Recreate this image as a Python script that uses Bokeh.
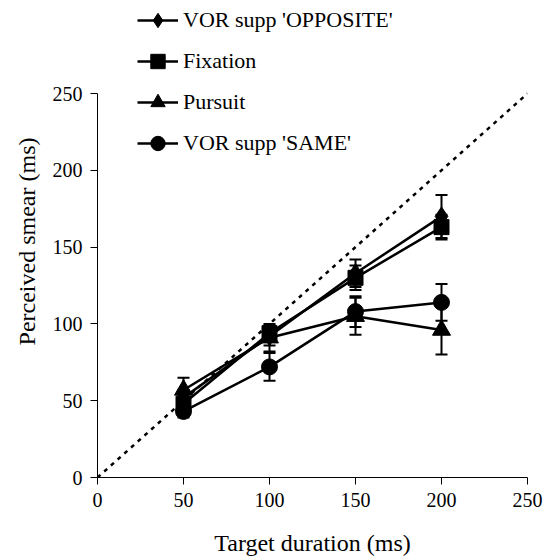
from bokeh.plotting import figure
from bokeh.models import (ColumnDataSource, Whisker, TeeHead, Legend, LegendItem,
                          Range1d, FixedTicker)
from bokeh.embed import file_html
from bokeh.resources import INLINE

durations = [50, 100, 150, 200]
opposite = [52, 92, 133, 170]
opposite_err = [5, 6, 9, 14]
fixation = [48, 94, 130, 163]
fixation_err = [4, 5, 8, 8]
pursuit = [57, 91, 105, 96]
pursuit_err = [8, 9, 12, 16]
same = [43, 72, 108, 114]
same_err = [4, 9, 10, 12]
unity = [0, 250]
ticks = [0, 50, 100, 150, 200, 250]

SERIF = "Liberation Serif"

p = figure(width=544, height=558, output_backend="svg", toolbar_location=None,
           x_range=Range1d(0, 250), y_range=Range1d(0, 307.3),
           min_border_left=97, min_border_right=17, min_border_top=5,
           min_border_bottom=81)
p.grid.visible = False
p.outline_line_color = None
p.background_fill_color = "white"

for ax in (p.xaxis[0], p.yaxis[0]):
    ax.ticker = FixedTicker(ticks=ticks)
    ax.minor_tick_line_color = None
    ax.major_tick_in = 0
    ax.major_tick_out = 7
    ax.axis_line_color = "black"
    ax.major_tick_line_color = "black"
    ax.major_label_text_font = SERIF
    ax.major_label_text_font_size = "20px"
    ax.major_label_text_color = "black"
    ax.axis_label_text_font = SERIF
    ax.axis_label_text_font_size = "24px"
    ax.axis_label_text_font_style = "normal"
    ax.axis_label_text_color = "black"

p.yaxis.bounds = (0, 250)
p.xaxis.axis_label = "Target duration (ms)"
p.yaxis.axis_label = "Perceived smear (ms)"
p.xaxis.major_label_standoff = 8
p.xaxis.axis_label_standoff = 20
p.yaxis.major_label_standoff = 8
p.yaxis.axis_label_standoff = 10

p.line(unity, unity, line_color="black", line_width=2.5, line_dash="4 5")

series = [
    ("VOR supp 'OPPOSITE'", opposite, opposite_err, "diamond", 19),
    ("Fixation", fixation, fixation_err, "square", 15),
    ("Pursuit", pursuit, pursuit_err, "triangle", 18),
    ("VOR supp 'SAME'", same, same_err, "circle", 16),
]

items = []
for label, vals, errs, marker, size in series:
    src = ColumnDataSource(dict(
        x=durations, y=vals,
        lo=[v - e for v, e in zip(vals, errs)],
        hi=[v + e for v, e in zip(vals, errs)],
    ))
    w = Whisker(source=src, base="x", upper="hi", lower="lo",
                line_color="black", line_width=2,
                upper_head=TeeHead(size=12, line_width=2, line_color="black"),
                lower_head=TeeHead(size=12, line_width=2, line_color="black"))
    p.add_layout(w)
    ln = p.line("x", "y", source=src, line_color="black", line_width=2.5)
    sc = p.scatter("x", "y", source=src, marker=marker, size=size,
                   fill_color="black", line_color="black")
    items.append(LegendItem(label=label, renderers=[ln, sc]))

legend = Legend(items=items, location=(40, 316), glyph_width=41, glyph_height=36,
                spacing=5, padding=0, margin=0, label_standoff=5,
                label_text_font=SERIF, label_text_font_size="22px",
                label_text_color="black",
                border_line_alpha=0, background_fill_alpha=0)
p.add_layout(legend)

open("out.html", "w").write(file_html(p, INLINE))
